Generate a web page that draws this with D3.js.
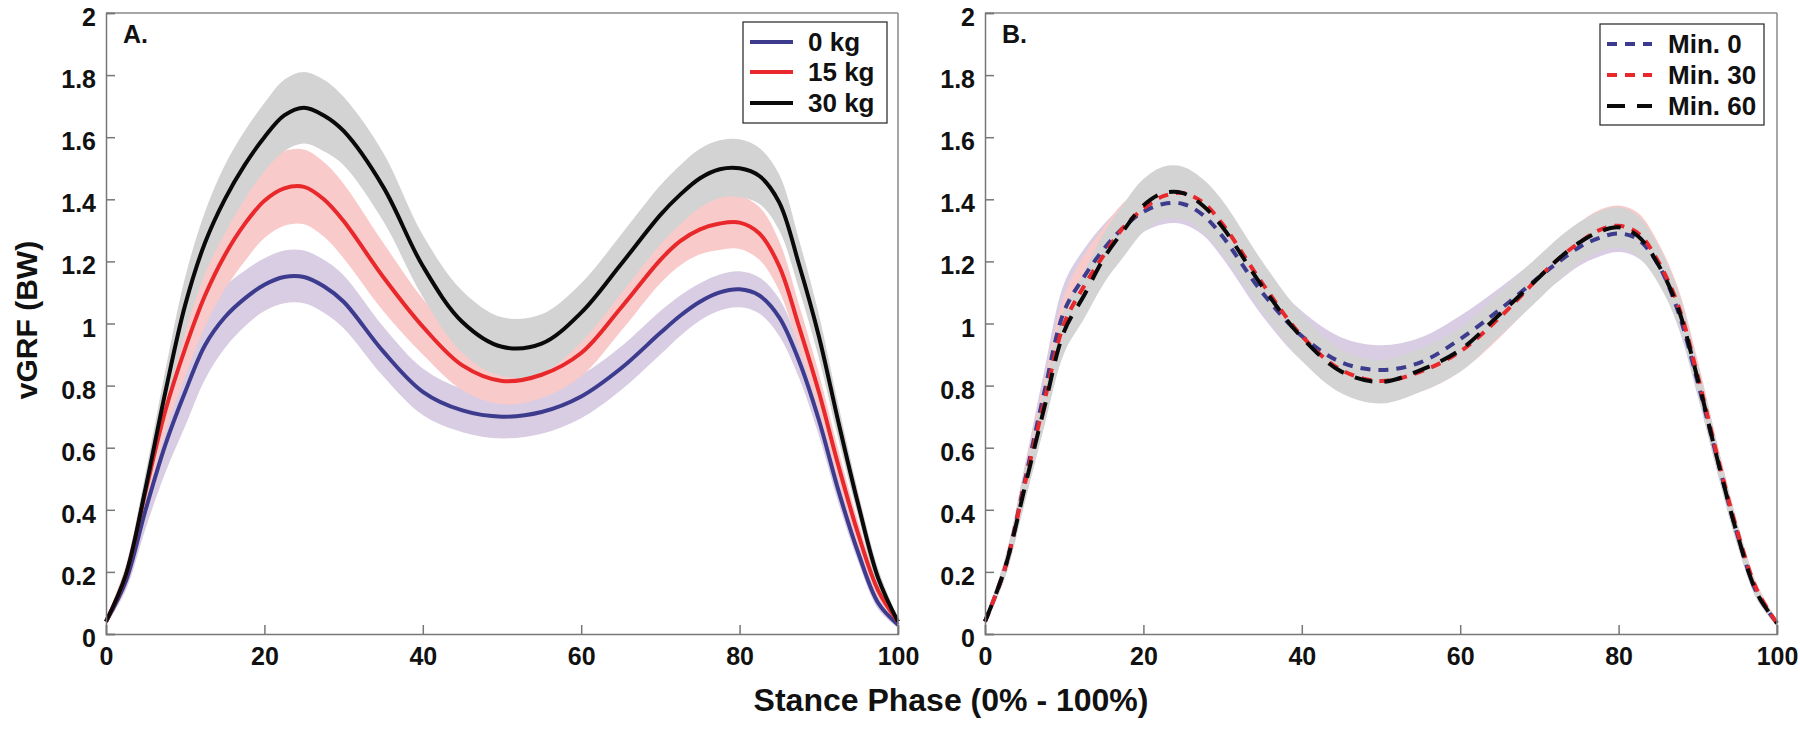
<!DOCTYPE html>
<html>
<head>
<meta charset="utf-8">
<script src="https://cdn.jsdelivr.net/npm/d3@7"></script>
<style>
  html, body { margin: 0; padding: 0; background: #fff; }
  svg { display: block; }
  text { font-family: "Liberation Sans", Arial, Helvetica, sans-serif; font-weight: bold; fill: #111; }
</style>
</head>
<body>
<svg id="chart" width="1800" height="729"></svg>
<script>
// ---------------- DATA ----------------
const phase = [0, 2.5, 5, 7.5, 10, 12.5, 15, 17.5, 20, 22.5, 25, 27.5, 30, 35, 40, 45, 50, 55, 60, 65, 70, 72.5, 75, 77.5, 80, 82.5, 85, 87.5, 90, 92.5, 95, 97.5, 100];

// Panel A: load conditions
const loadLabels = ["0 kg", "15 kg", "30 kg"];
const kg0Mean  = [0.04, 0.17, 0.40, 0.61, 0.78, 0.93, 1.02, 1.08, 1.125, 1.15, 1.15, 1.12, 1.07, 0.91, 0.78, 0.72, 0.70, 0.715, 0.765, 0.855, 0.97, 1.025, 1.07, 1.10, 1.11, 1.09, 1.02, 0.88, 0.69, 0.46, 0.26, 0.10, 0.03];
const kg0SD    = [0.01, 0.03, 0.06, 0.09, 0.11, 0.11, 0.10, 0.09, 0.085, 0.085, 0.085, 0.085, 0.085, 0.08, 0.075, 0.07, 0.07, 0.07, 0.07, 0.07, 0.07, 0.065, 0.06, 0.058, 0.058, 0.058, 0.06, 0.055, 0.05, 0.04, 0.03, 0.02, 0.01];
const kg15Mean = [0.04, 0.19, 0.46, 0.72, 0.92, 1.09, 1.22, 1.32, 1.395, 1.435, 1.44, 1.40, 1.33, 1.15, 0.99, 0.865, 0.815, 0.835, 0.905, 1.05, 1.205, 1.265, 1.303, 1.322, 1.325, 1.29, 1.185, 0.99, 0.78, 0.54, 0.32, 0.14, 0.04];
const kg15SD   = [0.01, 0.03, 0.05, 0.07, 0.09, 0.10, 0.11, 0.12, 0.12, 0.12, 0.12, 0.12, 0.12, 0.11, 0.09, 0.08, 0.075, 0.075, 0.075, 0.075, 0.075, 0.078, 0.08, 0.085, 0.085, 0.085, 0.08, 0.07, 0.06, 0.05, 0.04, 0.025, 0.01];
const kg30Mean = [0.04, 0.19, 0.47, 0.78, 1.06, 1.26, 1.40, 1.51, 1.60, 1.67, 1.695, 1.67, 1.62, 1.44, 1.185, 1.005, 0.925, 0.935, 1.035, 1.19, 1.35, 1.415, 1.468, 1.497, 1.50, 1.475, 1.39, 1.19, 0.96, 0.68, 0.415, 0.18, 0.04];
const kg30SD   = [0.01, 0.03, 0.05, 0.07, 0.09, 0.10, 0.11, 0.11, 0.11, 0.115, 0.115, 0.115, 0.11, 0.11, 0.10, 0.10, 0.095, 0.095, 0.095, 0.095, 0.095, 0.095, 0.095, 0.093, 0.093, 0.09, 0.09, 0.08, 0.07, 0.055, 0.04, 0.03, 0.01];

// Panel B: time points
const timeLabels = ["Min. 0", "Min. 30", "Min. 60"];
const min0Mean  = [0.04, 0.21, 0.49, 0.78, 1.04, 1.15, 1.24, 1.31, 1.36, 1.385, 1.385, 1.35, 1.28, 1.10, 0.96, 0.875, 0.85, 0.875, 0.95, 1.045, 1.15, 1.20, 1.245, 1.275, 1.29, 1.27, 1.19, 1.04, 0.81, 0.56, 0.32, 0.13, 0.035];
const min0SD    = [0.01, 0.03, 0.05, 0.07, 0.09, 0.09, 0.08, 0.07, 0.065, 0.065, 0.065, 0.065, 0.07, 0.075, 0.08, 0.08, 0.08, 0.08, 0.075, 0.07, 0.065, 0.062, 0.06, 0.06, 0.06, 0.06, 0.055, 0.05, 0.045, 0.035, 0.03, 0.02, 0.01];
const min30Mean = [0.04, 0.21, 0.48, 0.75, 1.00, 1.12, 1.22, 1.31, 1.37, 1.41, 1.42, 1.39, 1.32, 1.13, 0.96, 0.85, 0.815, 0.845, 0.91, 1.02, 1.15, 1.21, 1.26, 1.30, 1.315, 1.29, 1.20, 1.06, 0.83, 0.57, 0.33, 0.14, 0.035];
const min30SD   = [0.01, 0.03, 0.05, 0.07, 0.09, 0.10, 0.09, 0.08, 0.07, 0.07, 0.07, 0.07, 0.07, 0.068, 0.065, 0.065, 0.065, 0.065, 0.065, 0.065, 0.065, 0.065, 0.065, 0.065, 0.065, 0.065, 0.06, 0.055, 0.05, 0.04, 0.03, 0.02, 0.01];
const min60Mean = [0.04, 0.21, 0.47, 0.73, 0.975, 1.09, 1.21, 1.30, 1.38, 1.42, 1.42, 1.38, 1.31, 1.12, 0.955, 0.845, 0.812, 0.85, 0.915, 1.03, 1.15, 1.21, 1.26, 1.295, 1.31, 1.28, 1.19, 1.05, 0.82, 0.56, 0.32, 0.13, 0.035];
const min60SD   = [0.01, 0.03, 0.05, 0.06, 0.07, 0.075, 0.08, 0.085, 0.085, 0.085, 0.085, 0.085, 0.085, 0.08, 0.075, 0.07, 0.07, 0.07, 0.07, 0.07, 0.07, 0.068, 0.065, 0.065, 0.065, 0.065, 0.06, 0.055, 0.05, 0.045, 0.035, 0.02, 0.01];

const xTicks = [0, 20, 40, 60, 80, 100];
const yTicks = [0, 0.2, 0.4, 0.6, 0.8, 1, 1.2, 1.4, 1.6, 1.8, 2];
const yTickLabels = ["0", "0.2", "0.4", "0.6", "0.8", "1", "1.2", "1.4", "1.6", "1.8", "2"];
const xTitle = "Stance Phase (0% - 100%)";
const yTitle = "vGRF (BW)";
const panelLabels = ["A.", "B."];

// ---------------- STYLE ----------------
const lineColors = ["#3d3b8e", "#e8282b", "#0a0a0a"];
const bandColors = ["#d8cde3", "#f9caca", "#d3d3d3"];
const dashes = ["10,8", "10,8", "18,12"];

const svg = d3.select("#chart");
svg.append("rect").attr("width", 1800).attr("height", 729).attr("fill", "#fff");

const plotTop = 13, plotBottom = 634;
const panels = [
  { left: 106, right: 898, label: panelLabels[0], dashed: false,
    means: [kg0Mean, kg15Mean, kg30Mean], sds: [kg0SD, kg15SD, kg30SD], names: loadLabels,
    legend: { x: 743, y: 22, w: 144, h: 101, lineX0: 750, lineX1: 793, textX: 808, rows: [42, 72, 103] } },
  { left: 985, right: 1777, label: panelLabels[1], dashed: true,
    means: [min0Mean, min30Mean, min60Mean], sds: [min0SD, min30SD, min60SD], names: timeLabels,
    legend: { x: 1600, y: 24, w: 164, h: 101, lineX0: 1607, lineX1: 1652, textX: 1668, rows: [44, 75, 106] } }
];

panels.forEach(p => {
  const x = d3.scaleLinear().domain([0, 100]).range([p.left, p.right]);
  const y = d3.scaleLinear().domain([0, 2]).range([plotBottom, plotTop]);
  const g = svg.append("g");

  const curve = d3.curveCatmullRom.alpha(0.5);
  // bands
  [0, 1, 2].forEach(i => {
    const area = d3.area()
      .x((d, k) => x(phase[k]))
      .y0((d, k) => y(p.means[i][k] - p.sds[i][k]))
      .y1((d, k) => y(p.means[i][k] + p.sds[i][k]))
      .curve(curve);
    g.append("path").datum(phase).attr("d", area).attr("fill", bandColors[i]).attr("stroke", "none");
  });
  // lines
  [0, 1, 2].forEach(i => {
    const line = d3.line().x((d, k) => x(phase[k])).y((d, k) => y(p.means[i][k])).curve(curve);
    const path = g.append("path").datum(phase).attr("d", line)
      .attr("fill", "none").attr("stroke", lineColors[i]).attr("stroke-width", 4)
      .attr("stroke-linejoin", "round");
    if (p.dashed) path.attr("stroke-dasharray", dashes[i]);
  });

  // frame (top & right)
  g.append("line").attr("x1", p.left).attr("x2", p.right).attr("y1", plotTop).attr("y2", plotTop)
    .attr("stroke", "#888").attr("stroke-width", 1.5);
  g.append("line").attr("x1", p.right).attr("x2", p.right).attr("y1", plotTop).attr("y2", plotBottom)
    .attr("stroke", "#888").attr("stroke-width", 1.5);

  // axes
  const xAxis = d3.axisBottom(x).tickValues(xTicks).tickSize(-9).tickPadding(14).tickFormat(d3.format("d"));
  const yAxis = d3.axisLeft(y).tickValues(yTicks).tickSize(-9).tickPadding(10)
    .tickFormat((d, i) => yTickLabels[i]);
  const gx = g.append("g").attr("transform", `translate(0,${plotBottom})`).call(xAxis);
  const gy = g.append("g").attr("transform", `translate(${p.left},0)`).call(yAxis);
  [gx, gy].forEach(ax => {
    ax.select(".domain").attr("stroke", "#777").attr("stroke-width", 1.5);
    ax.selectAll(".tick line").attr("stroke", "#777").attr("stroke-width", 1.5);
    ax.selectAll(".tick text").attr("font-size", 25).attr("fill", "#111")
      .style("font-family", "'Liberation Sans', Arial, sans-serif").style("font-weight", "bold");
  });
  gx.selectAll(".tick text").attr("dy", "0.71em").attr("y", 13);
  gy.selectAll(".tick text").attr("dy", "0.5em");

  // panel label
  g.append("text").attr("x", p.left + 17).attr("y", 43).attr("font-size", 25).text(p.label);

  // legend
  const L = p.legend;
  g.append("rect").attr("x", L.x).attr("y", L.y).attr("width", L.w).attr("height", L.h)
    .attr("fill", "#fff").attr("stroke", "#222").attr("stroke-width", 1.2);
  p.names.forEach((name, i) => {
    const ln = g.append("line").attr("x1", L.lineX0).attr("x2", L.lineX1)
      .attr("y1", L.rows[i]).attr("y2", L.rows[i])
      .attr("stroke", lineColors[i]).attr("stroke-width", 4);
    if (p.dashed) ln.attr("stroke-dasharray", dashes[i]);
    g.append("text").attr("x", L.textX).attr("y", L.rows[i] + 9).attr("font-size", 26).text(name);
  });
});

// axis titles
svg.append("text").attr("x", 951).attr("y", 711).attr("text-anchor", "middle")
  .attr("font-size", 32).text(xTitle);
svg.append("text").attr("transform", "translate(37,320) rotate(-90)").attr("text-anchor", "middle")
  .attr("font-size", 30).text(yTitle);
</script>
</body>
</html>
